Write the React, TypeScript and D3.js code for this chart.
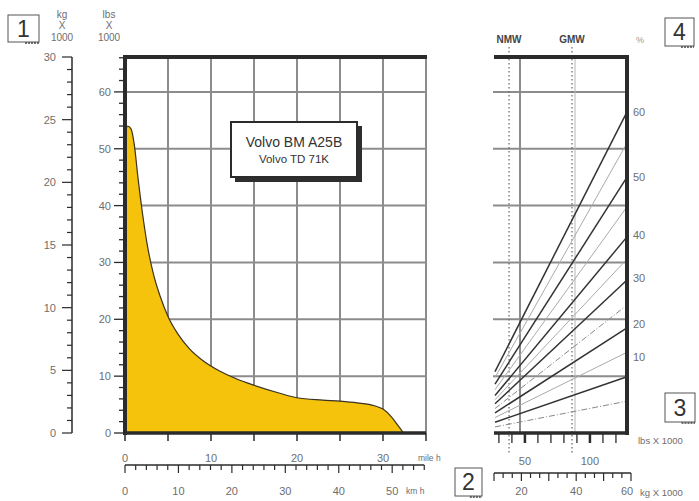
import React from "react";
import * as d3 from "d3";

// ---- data ----
// rimpull curve: speed (mile/h) vs rimpull (lbs x 1000)
const curveMph = [0, 0.3, 0.7, 1.1, 1.5, 2.0, 2.6, 3.3, 4.1, 5.0, 6.2, 7.5, 9.0, 11.0, 13.0, 15.0, 18.0, 20.0, 23.0, 25.0, 27.0, 29.0, 30.0, 31.0, 31.8, 32.4];
const curveLbs = [52, 54, 53.5, 50.5, 45, 39, 33, 28, 24, 20.5, 17.3, 14.8, 12.8, 10.9, 9.5, 8.4, 7.0, 6.2, 5.8, 5.6, 5.3, 4.8, 4.2, 2.8, 1.2, 0];

const kgTicksLabels = [0, 5, 10, 15, 20, 25, 30];
const lbsTickLabels = [0, 10, 20, 30, 40, 50, 60];
const mphTickLabels = [0, 10, 20, 30];
const kmhTickLabels = [0, 10, 20, 30, 40, 50];

// grade lines: rimpull (lbs x 1000) at right edge, style
const gradeEnd = [56.5, 51.0, 45.0, 39.8, 34.5, 30.6, 26.9, 22.5, 18.5, 14.2, 9.9, 5.6];
const gradeStyle = ["solid", "light", "solid", "light", "solid", "light", "solid", "dashdot", "solid", "light", "solid", "dashdot"];
const gradeLabels = ["60", "50", "40", "30", "20", "10"];
const gradeLabelLbs = [56.4, 45.0, 34.8, 27.3, 19.2, 13.4];

const weightLbsLabels = [50, 100];
const weightKgLabels = [20, 40, 60];
const nmwLbs = 37.8;
const gmwLbs = 86.2;

const FONT = "'Liberation Sans', Arial, Helvetica, sans-serif";

function NumBox({ x, y, w, h, label }: { x: number; y: number; w: number; h: number; label: string }) {
  return (
    <g>
      <rect x={x} y={y} width={w} height={h} fill="#fff" stroke="#555" strokeWidth={1} />
      <line x1={x + w * 0.55} x2={x + w} y1={y + h + 1} y2={y + h + 1} stroke="#444" strokeWidth={1.5} strokeDasharray="2,1" />
      <text x={x + w / 2} y={y + h / 2 + 8} textAnchor="middle" fontSize={23} fill="#333" fontFamily={FONT}>{label}</text>
    </g>
  );
}

export default function App() {
  const W = 699, H = 501;
  const yTop = 57, yBot = 433;
  const xMph = d3.scaleLinear().domain([0, 35]).range([125, 426]);
  const xKmh = d3.scaleLinear().domain([0, 35 * 1.609344]).range([125, 426]);
  const yKg = d3.scaleLinear().domain([0, 30]).range([yBot, yTop]);
  const yLbs = d3.scaleLinear().domain([0, 30 / 0.45359]).range([yBot, yTop]);
  const xW = d3.scaleLinear().domain([27, 128.5]).range([495, 627]);
  const xWkg = d3.scaleLinear().domain([10, 60]).range([494, 631]);

  const grid = "#8c8c8c";
  const dark = "#2b2b2b";
  const lab = "#6e6e6e";

  const pts = curveMph.map((m, i) => [m, curveLbs[i]] as [number, number]);
  const area = d3.area<[number, number]>()
    .x(d => xMph(d[0]))
    .y0(yLbs(0))
    .y1(d => yLbs(d[1]))
    .curve(d3.curveMonotoneX);
  const line = d3.line<[number, number]>()
    .x(d => xMph(d[0]))
    .y(d => yLbs(d[1]))
    .curve(d3.curveMonotoneX);

  const kgMinor = d3.range(0, 31, 1);
  const lbsMinor = d3.range(0, 67, 2);
  const kmhMinor = d3.range(0, 57, 2);
  const mphGrid = d3.range(5, 36, 5);
  const lbsGrid = d3.range(10, 61, 10);
  const wTicks = d3.range(30, 121, 10);
  const wkgTicks = d3.range(0, 16).map(i => 10 + (i * 10) / 3);

  const W0 = 3;
  const gradeLine = (end: number) => {
    const f = (w: number) => (end * (w - W0)) / (128.5 - W0);
    return d3.line<number>().x(w => xW(w)).y(w => yLbs(f(w)))([27, 128.5]) || "";
  };

  return (
    <svg width={W} height={H} style={{ display: "block", position: "absolute", left: 0, top: 0, background: "#fff" }} fontFamily={FONT}>
      <rect x={0} y={0} width={W} height={H} fill="#fff" />

      {/* header */}
      <NumBox x={8} y={15} w={31} h={27} label="1" />
      <g fontSize={10} fill={lab} textAnchor="middle">
        <text x={62} y={18}>kg</text>
        <text x={62} y={29}>X</text>
        <text x={62} y={41}>1000</text>
        <text x={109} y={18}>lbs</text>
        <text x={109} y={29}>X</text>
        <text x={109} y={41}>1000</text>
      </g>

      {/* kg axis */}
      <line x1={72} x2={72} y1={yKg(30)} y2={yKg(0)} stroke={dark} strokeWidth={1.5} />
      {kgMinor.map(k => (
        <line key={"kg" + k} x1={k % 5 === 0 ? 62 : 67} x2={72} y1={yKg(k)} y2={yKg(k)} stroke={dark} strokeWidth={1.2} />
      ))}
      {kgTicksLabels.map(k => (
        <text key={"kgl" + k} x={56} y={yKg(k) + 4} textAnchor="end" fontSize={11} fill={lab}>{k}</text>
      ))}

      {/* main grid */}
      {mphGrid.map(m => (
        <line key={"vg" + m} x1={xMph(m)} x2={xMph(m)} y1={yTop} y2={yBot} stroke={grid} strokeWidth={2} />
      ))}
      {lbsGrid.map(l => (
        <line key={"hg" + l} x1={125} x2={xMph(35)} y1={yLbs(l)} y2={yLbs(l)} stroke={grid} strokeWidth={2} />
      ))}

      {/* curve */}
      <path d={area(pts) || ""} fill="#f5c30c" />
      <path d={line(pts) || ""} fill="none" stroke="#3a3222" strokeWidth={1.2} />

      {/* frame */}
      <line x1={123} x2={xMph(35) + 1} y1={yTop} y2={yTop} stroke={dark} strokeWidth={4} />
      <line x1={125} x2={125} y1={yTop} y2={yBot + 2} stroke={dark} strokeWidth={4} />
      <line x1={123} x2={xMph(35)} y1={yBot} y2={yBot} stroke={dark} strokeWidth={3.5} />

      {/* lbs axis ticks */}
      {lbsMinor.map(l => (
        <line key={"lt" + l} x1={l % 10 === 0 ? 114 : 119} x2={125} y1={yLbs(l)} y2={yLbs(l)} stroke={dark} strokeWidth={1.3} />
      ))}
      {lbsTickLabels.map(l => (
        <text key={"ll" + l} x={111} y={yLbs(l) + 4} textAnchor="end" fontSize={11} fill={lab}>{l}</text>
      ))}

      {/* mph axis */}
      {[0, ...mphGrid].map(m => (
        <line key={"mt" + m} x1={xMph(m)} x2={xMph(m)} y1={yBot} y2={yBot + 8} stroke={dark} strokeWidth={1.5} />
      ))}
      {mphTickLabels.map(m => (
        <text key={"ml" + m} x={xMph(m)} y={462} textAnchor="middle" fontSize={11} fill={lab}>{m}</text>
      ))}
      <text x={418} y={461} fontSize={8.5} fill={lab}>mile h</text>

      {/* km/h axis */}
      <line x1={xKmh(0)} x2={xKmh(56)} y1={465} y2={465} stroke={dark} strokeWidth={1.3} />
      {kmhMinor.map(k => (
        <line key={"kt" + k} x1={xKmh(k)} x2={xKmh(k)} y1={465} y2={k % 10 === 0 ? 473 : 470} stroke={dark} strokeWidth={1.2} />
      ))}
      {kmhTickLabels.map(k => (
        <text key={"kl" + k} x={xKmh(k)} y={495} textAnchor="middle" fontSize={11} fill={lab}>{k}</text>
      ))}
      <text x={406} y={494} fontSize={8.5} fill={lab}>km h</text>
      <NumBox x={455} y={468} w={27} h={28} label="2" />

      {/* title box */}
      <rect x={235} y={126} width={127} height={56} fill="#2e2e2e" />
      <rect x={231} y={122} width={126} height={55} fill="#fff" stroke={dark} strokeWidth={2} />
      <text x={294} y={147} textAnchor="middle" fontSize={14} fill="#333">Volvo BM A25B</text>
      <text x={294} y={163} textAnchor="middle" fontSize={11.5} fill="#333">Volvo TD 71K</text>

      {/* right chart grid */}
      {lbsGrid.map(l => (
        <line key={"rhg" + l} x1={493} x2={627} y1={yLbs(l)} y2={yLbs(l)} stroke={grid} strokeWidth={2} />
      ))}
      <line x1={520} x2={520} y1={yTop} y2={yBot} stroke={grid} strokeWidth={2} />
      <line x1={575} x2={575} y1={yTop} y2={yBot} stroke="#b5b5b5" strokeWidth={1} />
      <line x1={xW(nmwLbs)} x2={xW(nmwLbs)} y1={47} y2={455} stroke="#666" strokeWidth={1.2} strokeDasharray="1.5,2.5" />
      <line x1={xW(gmwLbs)} x2={xW(gmwLbs)} y1={47} y2={455} stroke="#666" strokeWidth={1.2} strokeDasharray="1.5,2.5" />

      {/* grade lines */}
      {gradeEnd.map((e, i) => {
        const s = gradeStyle[i];
        return (
          <path key={"gl" + i} d={gradeLine(e)} fill="none"
            stroke={s === "solid" ? "#333" : s === "light" ? "#aaa" : "#888"}
            strokeWidth={s === "solid" ? 1.5 : 1}
            strokeDasharray={s === "dashdot" ? "6,2,1,2" : undefined} />
        );
      })}

      {/* right frame */}
      <line x1={494} x2={629} y1={yTop} y2={yTop} stroke={dark} strokeWidth={4} />
      <line x1={627} x2={627} y1={yTop} y2={yBot + 2} stroke={dark} strokeWidth={4} />
      <line x1={494} x2={629} y1={yBot} y2={yBot} stroke={dark} strokeWidth={3.5} />
      {wTicks.map(w => (
        <line key={"wt" + w} x1={xW(w)} x2={xW(w)} y1={yBot} y2={yBot + 10} stroke={dark} strokeWidth={w % 50 === 0 ? 2.5 : 1.3} />
      ))}
      {weightLbsLabels.map(w => (
        <text key={"wl" + w} x={xW(w)} y={465} textAnchor="middle" fontSize={11} fill={lab}>{w}</text>
      ))}
      <text x={638} y={444} fontSize={9.5} fill={lab}>lbs X 1000</text>

      {/* kg weight axis */}
      <line x1={494} x2={631} y1={473} y2={473} stroke={dark} strokeWidth={1.3} />
      {wkgTicks.map((k, i) => (
        <line key={"wkt" + i} x1={xWkg(k)} x2={xWkg(k)} y1={473} y2={i % 3 === 0 ? 481 : 478} stroke={dark} strokeWidth={1.2} />
      ))}
      {weightKgLabels.map(k => (
        <text key={"wkl" + k} x={xWkg(k) - (k === 60 ? 4 : 0)} y={495} textAnchor="middle" fontSize={11} fill={lab}>{k}</text>
      ))}
      <text x={640} y={496} fontSize={9.5} fill={lab}>kg X 1000</text>

      {/* grade labels */}
      {gradeLabels.map((g, i) => (
        <text key={"gtl" + g} x={633} y={yLbs(gradeLabelLbs[i]) + 4} fontSize={11} fill={lab}>{g}</text>
      ))}
      <text x={636} y={43} fontSize={9} fill="#999">%</text>
      <text x={509} y={43} textAnchor="middle" fontSize={10} fontWeight="bold" fill="#444">NMW</text>
      <text x={572} y={43} textAnchor="middle" fontSize={10} fontWeight="bold" fill="#444">GMW</text>

      <NumBox x={665} y={18} w={29} h={28} label="4" />
      <NumBox x={665} y={393} w={30} h={29} label="3" />
    </svg>
  );
}
